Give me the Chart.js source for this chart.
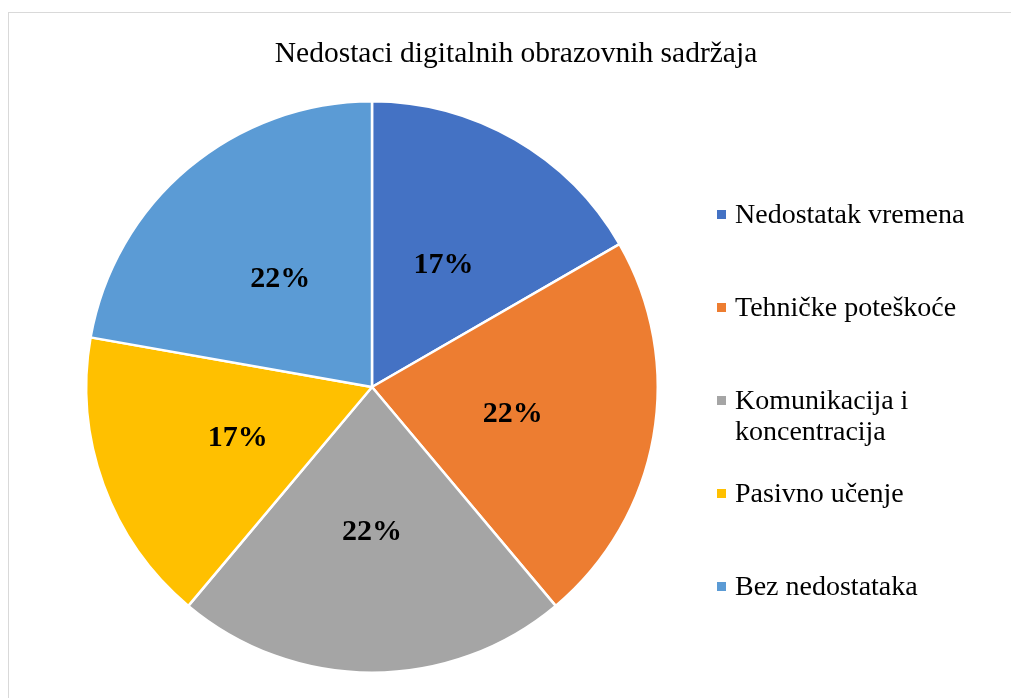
<!DOCTYPE html>
<html lang="hr">
<head>
  <meta charset="utf-8">
  <title>Nedostaci digitalnih obrazovnih sadržaja</title>
  <script type="text/javascript" src="https://cdn.jsdelivr.net/npm/chart.js"></script>
  <style>
    html, body { margin: 0; padding: 0; background: #fff; }
    #wrap { width: 1011px; height: 698px; }
  </style>
</head>
<body>
<div id="wrap"><canvas id="chart" width="1011" height="698"></canvas></div>

<script>
  // Chart data
  const chartTitle = 'Nedostaci digitalnih obrazovnih sadržaja';
  const categories = [
    'Nedostatak vremena',
    'Tehničke poteškoće',
    ['Komunikacija i', 'koncentracija'],
    'Pasivno učenje',
    'Bez nedostataka'
  ];
  const counts = [3, 4, 4, 3, 4];
  const sliceColors = ['#4472C4', '#ED7D31', '#A5A5A5', '#FFC000', '#5B9BD5'];

  const serif = '"Liberation Serif", "Times New Roman", serif';

  // Frame, title and legend drawn like the Excel chart
  const excelLook = {
    id: 'excelLook',
    beforeDraw(chart) {
      const c = chart.ctx;
      c.save();
      c.strokeStyle = '#d9d9d9';
      c.lineWidth = 1;
      c.strokeRect(8.5, 12.5, 1100, 800);
      c.restore();
    },
    afterDraw(chart) {
      const c = chart.ctx;
      c.save();
      c.fillStyle = '#000';
      c.font = '29.5px ' + serif;
      c.textAlign = 'center';
      c.textBaseline = 'alphabetic';
      c.fillText(chartTitle, 516, 62);

      // legend
      c.textAlign = 'left';
      c.font = '28px ' + serif;
      const labels = chart.data.labels;
      const colors = chart.data.datasets[0].backgroundColor;
      labels.forEach((lab, i) => {
        const base = 223 + i * 93;
        c.fillStyle = colors[i];
        c.fillRect(717, base - 13, 9, 9);
        c.fillStyle = '#000';
        const lines = Array.isArray(lab) ? lab : [lab];
        lines.forEach((ln, j) => c.fillText(ln, 735, base + j * 31));
      });

      // percentage labels
      const meta = chart.getDatasetMeta(0);
      const data = chart.data.datasets[0].data;
      const total = data.reduce((a, b) => a + b, 0);
      c.font = 'bold 30px ' + serif;
      c.textAlign = 'center';
      c.textBaseline = 'middle';
      c.fillStyle = '#000';
      meta.data.forEach((arc, i) => {
        const p = arc.tooltipPosition();
        c.fillText(Math.round(data[i] / total * 100) + '%', p.x, p.y + 2);
      });
      c.restore();
    }
  };

  new Chart(document.getElementById('chart'), {
    type: 'pie',
    data: {
      labels: categories,
      datasets: [{
        data: counts,
        backgroundColor: sliceColors,
        borderColor: '#ffffff',
        borderWidth: 2.5
      }]
    },
    options: {
      responsive: false,
      animation: false,
      layout: { padding: { top: 100, bottom: 24, left: 85, right: 352 } },
      plugins: {
        legend: { display: false },
        title: { display: false },
        tooltip: { enabled: false }
      }
    },
    plugins: [excelLook]
  });
</script>
</body>
</html>
